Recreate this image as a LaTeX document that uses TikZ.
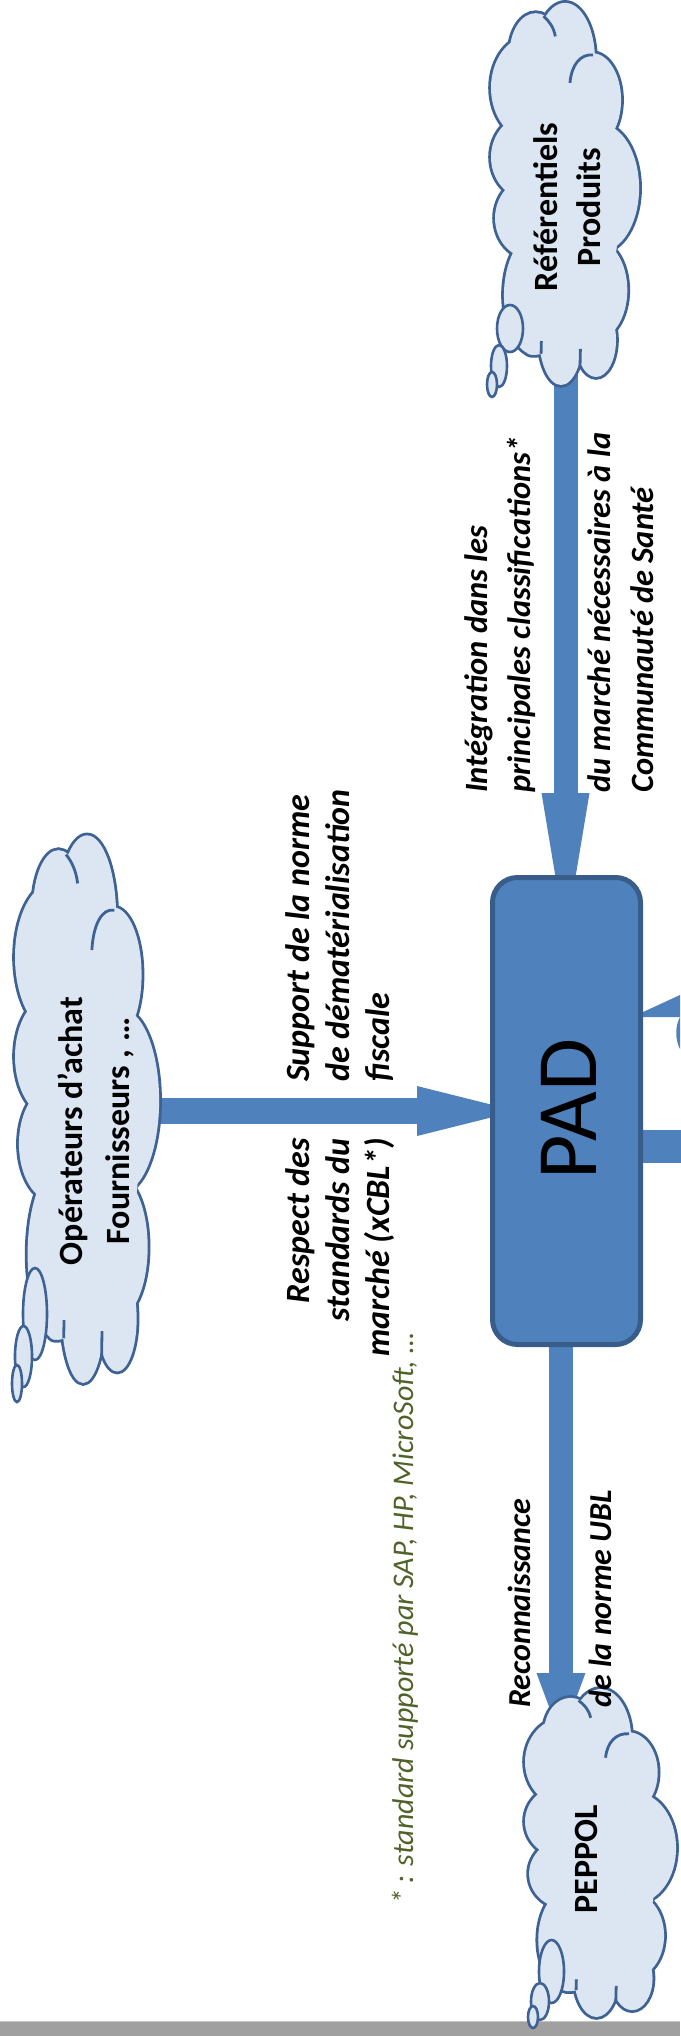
\documentclass[tikz,border=0pt]{standalone}
\usepackage{fontspec}
\setmainfont{Carlito}
\usetikzlibrary{arrows.meta, calc, backgrounds}
\definecolor{arrowblue}{HTML}{4F81BD}
\definecolor{padline}{HTML}{385D8A}
\definecolor{cloudline}{HTML}{3D6293}
\definecolor{cloudfill}{HTML}{DCE6F2}
\definecolor{notegreen}{HTML}{4F6228}
\definecolor{bargray}{HTML}{A0A0A0}
\definecolor{barline}{HTML}{C4C4C4}
% cloud puffs in unit coordinates (u right, v down)
\newcommand{\cloudpuffs}[1]{%
  \path[#1]
    (.300,.130) ellipse [x radius=.175, y radius=.106]
    (.497,.147) ellipse [x radius=.201, y radius=.150]
    (.678,.252) ellipse [x radius=.195, y radius=.123]
    (.732,.483) ellipse [x radius=.262, y radius=.168]
    (.700,.751) ellipse [x radius=.215, y radius=.131]
    (.705,.882) ellipse [x radius=.134, y radius=.097]
    (.470,.869) ellipse [x radius=.148, y radius=.131]
    (.275,.869) ellipse [x radius=.081, y radius=.052]
    (.295,.764) ellipse [x radius=.208, y radius=.157]
    (.262,.562) ellipse [x radius=.235, y radius=.105]
    (.248,.402) ellipse [x radius=.248, y radius=.110]
    (.262,.220) ellipse [x radius=.262, y radius=.136];}
\newcommand{\cloudbody}{%
  \cloudpuffs{draw=cloudline, line width=5.6pt, fill=cloudfill}
  \cloudpuffs{fill=cloudfill}
  \fill[cloudfill] (.37,.10) -- (.67,.17) -- (.77,.35) -- (.85,.62) -- (.78,.83) -- (.59,.92) -- (.35,.88) -- (.24,.87) -- (.18,.63) -- (.14,.49) -- (.13,.33) -- (.17,.14) -- cycle;
  \draw[cloudline, line width=2.8pt]
    (.352,.032) .. controls (.39,.045) and (.42,.060) .. (.432,.085)
    (.685,.134) .. controls (.60,.13) and (.54,.16) .. (.530,.207)
    (.597,.958) -- (.600,.905)
    (.336,.918) -- (.338,.885);}
\begin{document}
\begin{tikzpicture}[x=1pt, y=-1pt,
  cloudanchor/.style={rectangle, inner sep=0pt, outer sep=0pt},
  bubble/.style={draw=cloudline, fill=cloudfill, line width=2.6pt},
  cloudtext/.style={rotate=90, font=\bfseries\fontsize{34}{43}\selectfont, align=center, inner sep=0pt},
  lbl/.style={rotate=90, font=\bfseries\itshape\fontsize{34}{40}\selectfont, inner sep=0pt},
  padbox/.style={rectangle, rounded corners=25pt, draw=padline, fill=arrowblue, line width=5pt, minimum width=148pt, minimum height=467pt, inner sep=0pt},
  blockarrow/.style={draw=arrowblue, line width=24pt},
]
\useasboundingbox (0,0) rectangle (680,2036);

% Référentiels cloud
\begin{scope}[shift={(491,4)}, xscale=149, yscale=381]
  \cloudbody
\end{scope}
\node[cloudanchor, minimum width=149pt, minimum height=381pt] (ref) at (565.5,194.5) {};
\draw[bubble] (510,328.5) ellipse [x radius=13pt, y radius=23.5pt];
\draw[bubble] (499,366) ellipse [x radius=8pt, y radius=21pt];
\draw[bubble] (492,384.5) ellipse [x radius=5pt, y radius=12.5pt];
\node[cloudtext] (reftext) at (567.5,207) {Référentiels\\Produits};

% Opérateurs cloud
\begin{scope}[shift={(15,837)}, xscale=145, yscale=546]
  \cloudbody
\end{scope}
\node[cloudanchor, minimum width=145pt, minimum height=546pt] (ops) at (87.5,1110) {};
\draw[bubble] (35,1314) ellipse [x radius=12pt, y radius=46pt];
\draw[bubble] (23.5,1356.5) ellipse [x radius=8.5pt, y radius=30.5pt];
\draw[bubble] (17,1383.5) ellipse [x radius=5pt, y radius=18.5pt];
\node[cloudtext, font=\bfseries\fontsize{34}{47}\selectfont] (opstext) at (96,1131) {Opérateurs d’achat\\Fournisseurs , …};

% PEPPOL cloud
\begin{scope}[shift={(525,1690)}, xscale=152, yscale=327]
  \cloudbody
\end{scope}
\node[cloudanchor, minimum width=152pt, minimum height=327pt] (peppol) at (601,1853.5) {};
\draw[bubble] (551.5,1971.5) ellipse [x radius=12.5pt, y radius=31.5pt];
\draw[bubble] (540,2001.5) ellipse [x radius=9pt, y radius=18.5pt];
\draw[bubble] (533,2017) ellipse [x radius=5pt, y radius=11pt];
\node[cloudtext] (peppoltext) at (586,1859) {PEPPOL};

% PAD
\node[padbox] (pad) at (566.5,1111) {};
\node[rotate=90, font=\fontsize{86}{86}\selectfont, inner sep=0pt] (padtext) at (569,1109) {PAD};

% labels
\node[lbl, align=left, anchor=west] (lsupport) at (340,1082) {Support de la norme\\de dématérialisation\\fiscale};
\node[lbl, align=right, anchor=east] (lrespect) at (340,1138) {Respect des\\standards du\\marché (xCBL*)};
\node[lbl, font=\bfseries\itshape\fontsize{32.5}{43}\selectfont, align=left, anchor=west] (linteg) at (500,793) {Intégration dans les\\principales classifications*};
\node[lbl, font=\bfseries\itshape\fontsize{32.5}{43}\selectfont, align=left, anchor=west] (lmarche) at (621,793) {du marché nécessaires à la\\Communauté de Santé};
\node[lbl, font=\bfseries\itshape\fontsize{32}{40}\selectfont, anchor=west] (lrecon) at (519,1708) {Reconnaissance};
\node[lbl, font=\bfseries\itshape\fontsize{32}{40}\selectfont, anchor=west] (lubl) at (600,1708) {de la norme UBL};
\node[rotate=90, anchor=west, font=\itshape\fontsize{30}{36}\selectfont, text=notegreen, inner sep=0pt] (note) at (405,1905) {* : standard supporté par SAP, HP, MicroSoft, …};

\coordinate (ptip) at (561,1739);
\coordinate (rightend) at (690,1146.5);

\begin{pgfonlayer}{background}
\fill[bargray] (0,2021) rectangle (680,2036);
\draw[barline, line width=1pt] (0,2021.5) -- (680,2021.5);
\draw[blockarrow, -{Triangle[length=144pt,width=48pt,line width=0pt]}] (ref.center) -- ($(ref.center |- pad.north)+(0,62)$);
\draw[blockarrow, line width=26pt, -{Triangle[length=100pt,width=50pt,line width=0pt]}] (ops.center |- pad.west) -- ($(pad.west)+(27,0)$);
\draw[blockarrow, -{Triangle[length=66pt,width=49pt,line width=0pt]}] (pad.center -| ptip) -- (ptip);
\draw[blockarrow, line width=33pt] (pad.center |- rightend) -- (rightend);
\fill[arrowblue] (630,1017) -- (630,1018) -- (680,995) -- (680,1017) -- cycle;
\fill[arrowblue] (680,1017) .. controls (675,1026) and (675,1040) .. (680,1049) -- cycle;
\end{pgfonlayer}
\end{tikzpicture}
\end{document}
